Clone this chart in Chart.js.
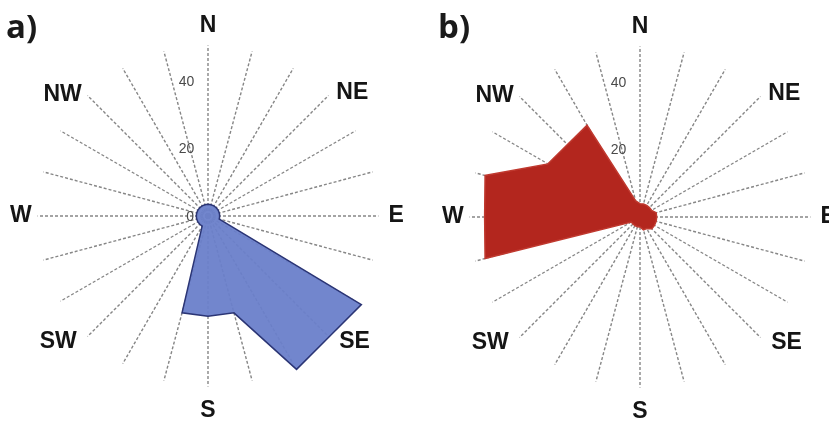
<!DOCTYPE html>
<html>
<head>
<meta charset="utf-8">
<script src="https://cdn.jsdelivr.net/npm/chart.js@4.4.1/dist/chart.umd.min.js"></script>
<style>
  html, body { margin: 0; padding: 0; background: #ffffff; }
  body { width: 829px; height: 426px; overflow: hidden; position: relative; }
  .panel { position: absolute; }
  .tag {
    position: absolute; top: 6px;
    font-family: "Open Sans", sans-serif; font-weight: 700; font-size: 33px;
    color: #1a1a1a; line-height: 40px;
  }
</style>
</head>
<body>
<div class="panel" style="left:-1px; top:4px"><canvas id="roseA" width="416" height="430"></canvas></div>
<div class="panel" style="left:431px; top:5px"><canvas id="roseB" width="416" height="430"></canvas></div>
<div class="tag" style="left:6px">a)</div>
<div class="tag" style="left:438px">b)</div>
<script>
// 24 spokes, every 15 degrees clockwise from north
const directions = ["N", "", "", "   NE", "", "", "E", "", "", "   SE", "", "", "S", "", "", "SW   ", "", "", "W", "", "", "NW   ", "", ""];

// frequency per direction
const roseA = [3.5, 3.5, 3.5, 3.5, 3.5, 3.5, 3.5, 3.5, 53, 51.2, 53, 30, 30, 30, 3.5, 3.5, 3.5, 3.5, 3.5, 3.5, 3.5, 3.5, 3.5, 3.5];
const roseB = [4, 4, 4, 4, 4, 5, 5, 5, 5, 5, 4, 4, 3, 3, 3, 3, 3, 48, 46.5, 48, 31.8, 30.7, 31.7, 5];

const radialTicks = [0, 20, 40];
const RADIUS_MAX = 51;

// label gap per compass point: N, NE, E, SE, S, SW, W, NW
const labelGaps = [-3, -25, 1, -21, 1, -21, -3, -28];

const zeroLabel = {
  id: "zeroLabel",
  beforeDatasetsDraw(chart) {
    const r = chart.scales.r;
    const ctx = chart.ctx;
    ctx.save();
    ctx.font = "14px 'Liberation Sans', Arial, sans-serif";
    ctx.fillStyle = "#4a4a4a";
    ctx.textAlign = "right";
    ctx.textBaseline = "middle";
    ctx.fillText(String(radialTicks[0]), r.xCenter - 14, r.yCenter + 1);
    ctx.restore();
  },
};

function labelPadding(ctx) {
  if (ctx.index % 3 === 0) return labelGaps[ctx.index / 3];
  return 0;
}

function roseConfig(values, fill, border) {
  return {
    type: "radar",
    data: {
      labels: directions,
      datasets: [{
        data: values,
        backgroundColor: fill,
        borderColor: border,
        borderWidth: 1.5,
        pointRadius: 0,
        fill: true,
      }],
    },
    options: {
      responsive: false,
      animation: false,
      layout: { padding: 7 },
      plugins: { legend: { display: false }, tooltip: { enabled: false } },
      scales: {
        r: {
          min: 0,
          max: RADIUS_MAX,
          grid: { display: false },
          angleLines: { color: "#868686", lineWidth: 1.4, borderDash: [3, 2] },
          ticks: {
            stepSize: 20,
            showLabelBackdrop: false,
            color: "#4a4a4a",
            font: { family: "'Liberation Sans', Arial, sans-serif", size: 14 },
            callback: (v) => (radialTicks.includes(v) ? v + "           " : ""),
          },
          pointLabels: {
            color: "#151515",
            padding: labelPadding,
            font: { family: "'Liberation Sans', Arial, sans-serif", size: 23, weight: "bold" },
          },
        },
      },
    },
    plugins: [zeroLabel],
  };
}

new Chart(document.getElementById("roseA"), roseConfig(roseA, "rgba(106,128,202,0.95)", "#2b3575"));
new Chart(document.getElementById("roseB"), roseConfig(roseB, "#b3261e", "#c0392f"));
</script>
</body>
</html>
